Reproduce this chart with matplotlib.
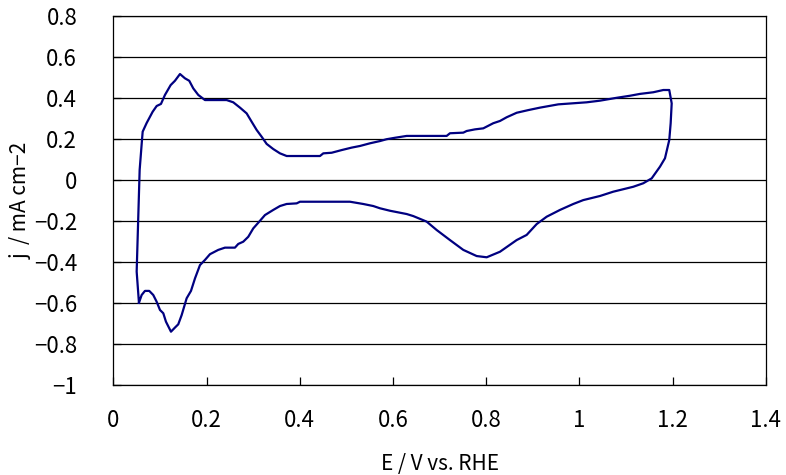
import matplotlib.pyplot as plt

plt.rcParams["font.family"] = ["Noto Sans CJK JP", "DejaVu Sans"]

# anodic sweep, 0.05 V -> 1.2 V
anodic_e = [0.0551, 0.0502, 0.0566, 0.0616, 0.0631, 0.0716, 0.0845, 0.0931, 0.1023,
            0.1109, 0.1231, 0.1323, 0.1431, 0.1538, 0.1630, 0.1716, 0.1823, 0.1967,
            0.2432, 0.2574, 0.2718, 0.2861, 0.2969, 0.3076, 0.3183, 0.3290, 0.3432,
            0.3576, 0.3720, 0.4434, 0.4505, 0.4685, 0.4899, 0.5114, 0.5292, 0.5506,
            0.5721, 0.5864, 0.6043, 0.6293, 0.7151, 0.7222, 0.7508, 0.7580, 0.7758,
            0.7937, 0.8151, 0.8295, 0.8438, 0.8653, 0.8902, 0.9153, 0.9545, 1.0154,
            1.0440, 1.0798, 1.1083, 1.1298, 1.1583, 1.1798, 1.1926]
anodic_j = [-0.599, -0.447, 0.049, 0.195, 0.236, 0.278, 0.333, 0.361, 0.371,
            0.415, 0.463, 0.484, 0.517, 0.496, 0.484, 0.447, 0.415, 0.390,
            0.390, 0.379, 0.353, 0.325, 0.284, 0.244, 0.211, 0.176, 0.151,
            0.130, 0.117, 0.117, 0.130, 0.133, 0.146, 0.158, 0.166, 0.179,
            0.190, 0.199, 0.206, 0.215, 0.215, 0.228, 0.231, 0.239, 0.247,
            0.252, 0.277, 0.288, 0.306, 0.328, 0.341, 0.353, 0.369, 0.379,
            0.387, 0.401, 0.411, 0.420, 0.428, 0.439, 0.439]

# cathodic sweep, 1.2 V -> 0.05 V
cathodic_e = [1.1978, 1.1956, 1.1926, 1.1834, 1.1727, 1.1549, 1.1368, 1.1154, 1.0725,
              1.0440, 1.0082, 0.9867, 0.9582, 0.9297, 0.9082, 0.8867, 0.8653, 0.8295,
              0.8010, 0.7795, 0.7508, 0.7222, 0.6937, 0.6722, 0.6435, 0.6293, 0.5935,
              0.5721, 0.5577, 0.5362, 0.5077, 0.4005, 0.3934, 0.3719, 0.3576, 0.3432,
              0.3254, 0.3147, 0.3003, 0.2896, 0.2788, 0.2681, 0.2610, 0.2396, 0.2252,
              0.2074, 0.1967, 0.1860, 0.1753, 0.1667, 0.1574, 0.1467, 0.1394, 0.1323,
              0.1238, 0.1130, 0.1073, 0.1002, 0.0931, 0.0858, 0.0772, 0.0680, 0.0609,
              0.0551]
cathodic_j = [0.374, 0.277, 0.195, 0.106, 0.065, 0.008, -0.016, -0.033, -0.057,
              -0.078, -0.098, -0.117, -0.146, -0.179, -0.215, -0.268, -0.293, -0.350,
              -0.377, -0.371, -0.341, -0.293, -0.244, -0.203, -0.176, -0.166, -0.150,
              -0.138, -0.127, -0.117, -0.106, -0.106, -0.114, -0.117, -0.127, -0.146,
              -0.171, -0.199, -0.236, -0.277, -0.301, -0.312, -0.330, -0.330, -0.341,
              -0.362, -0.390, -0.415, -0.480, -0.541, -0.577, -0.659, -0.704, -0.720,
              -0.740, -0.691, -0.650, -0.634, -0.594, -0.561, -0.541, -0.541, -0.561,
              -0.599]

x_ticks = [0, 0.2, 0.4, 0.6, 0.8, 1, 1.2, 1.4]
y_ticks = [-1, -0.8, -0.6, -0.4, -0.2, 0, 0.2, 0.4, 0.6, 0.8]

fig = plt.figure(figsize=(7.86, 4.75), dpi=100)
ax = fig.add_axes([0.1441, 0.1895, 0.8304, 0.7768])

ax.plot(anodic_e + cathodic_e, anodic_j + cathodic_j, color="#000080", lw=1.6)

ax.set_xlim(0, 1.4)
ax.set_ylim(-1, 0.8)
ax.set_xticks(x_ticks)
ax.set_yticks(y_ticks)
ax.set_xticklabels([f"{t:g}" for t in x_ticks])
ax.set_yticklabels([f"{t:g}".replace("-", "\u2212") for t in y_ticks])
ax.grid(axis="y", color="black", lw=0.9)
ax.set_axisbelow(True)

for s in ax.spines.values():
    s.set_color("black")
    s.set_linewidth(0.9)

ax.tick_params(axis="x", direction="in", length=6, width=0.9, pad=17, labelsize=16)
ax.tick_params(axis="y", direction="in", length=6, width=0.9, pad=26, labelsize=16)

ax.set_xlabel("E / V vs. RHE", fontsize=15)
ax.set_ylabel("j  / mA cm\u22122", fontsize=15)
ax.xaxis.set_label_coords(0.5, -0.185)
ax.yaxis.set_label_coords(-0.125, 0.5)

fig.savefig("out.png", dpi=100)
